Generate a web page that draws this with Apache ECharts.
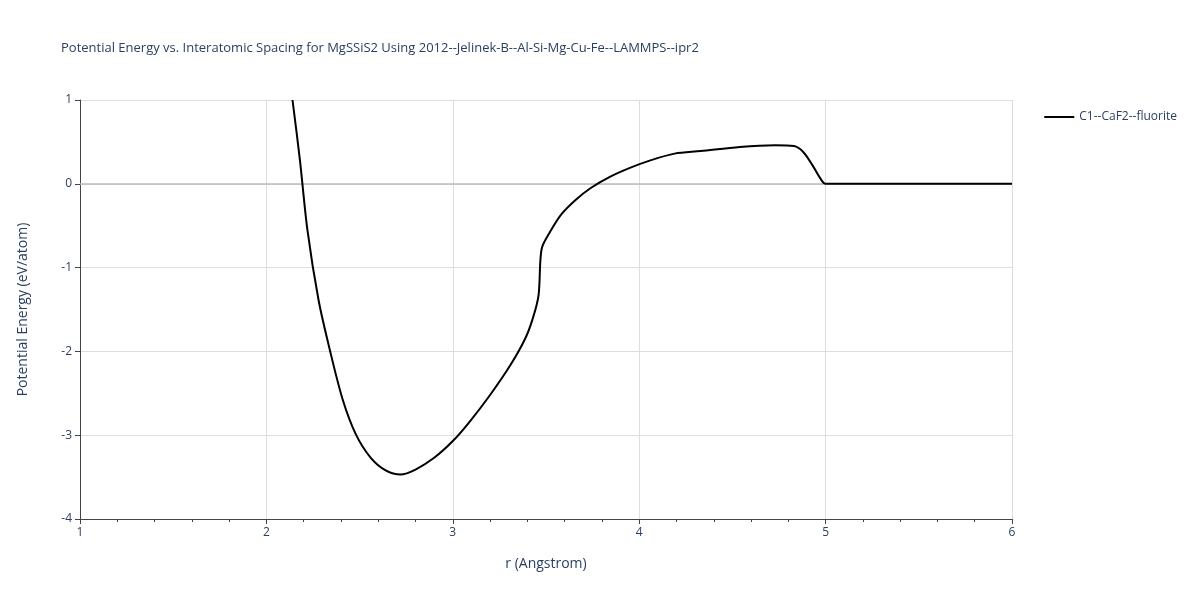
<!DOCTYPE html>
<html><head><meta charset="utf-8">
<script src="https://cdn.jsdelivr.net/npm/echarts@6/dist/echarts.min.js"></script>
<style>html,body{margin:0;padding:0;background:#fff}#c{width:1200px;height:600px}</style>
</head><body><div id="c"></div>
<script>
const rVals = [2.14,2.18,2.22,2.28,2.34,2.41,2.48,2.56,2.64,2.72,2.80,2.90,3.00,3.09,3.20,3.31,3.39,3.43,3.46,3.47,3.48,3.52,3.58,3.66,3.74,3.84,3.95,4.06,4.19,4.33,4.54,4.73,4.83,4.88,4.93,4.97,5.00,5.5,6.0];
const eVals = [1.0,0.28,-0.55,-1.39,-1.98,-2.58,-2.99,-3.27,-3.42,-3.47,-3.41,-3.27,-3.07,-2.84,-2.52,-2.16,-1.84,-1.60,-1.33,-0.91,-0.75,-0.58,-0.37,-0.19,-0.05,0.08,0.19,0.28,0.36,0.39,0.44,0.46,0.45,0.38,0.22,0.07,0,0,0];
const seriesName = 'C1--CaF2--fluorite';
const chart = echarts.init(document.getElementById('c'));
const font = 'Open Sans, Noto Sans, sans-serif';
chart.setOption({
  animation:false,
  title:{text:'Potential Energy vs. Interatomic Spacing for MgSSiS2 Using 2012--Jelinek-B--Al-Si-Mg-Cu-Fe--LAMMPS--ipr2',left:56,top:37,textStyle:{fontSize:13,fontWeight:'normal',color:'#2a3f5f',fontFamily:font}},
  legend:{right:18,top:106,orient:'vertical',itemWidth:30,itemHeight:2,icon:'rect',textStyle:{fontSize:12,color:'#2a3f5f',fontFamily:font},data:[seriesName]},
  grid:{left:80,right:188,top:100,bottom:81},
  xAxis:{type:'value',min:1,max:6,interval:1,name:'r (Angstrom)',nameLocation:'middle',nameGap:38,
    nameTextStyle:{fontSize:14,color:'#2a3f5f',fontFamily:font},
    axisLine:{onZero:false,lineStyle:{color:'#444'}},axisTick:{show:true,length:5,lineStyle:{color:'#444'}},
    minorTick:{show:true,splitNumber:5,length:3,lineStyle:{color:'#444'}},
    axisLabel:{color:'#2a3f5f',fontSize:12,fontFamily:font},splitLine:{lineStyle:{color:'#ddd'}}},
  yAxis:{type:'value',min:-4,max:1,interval:1,name:'Potential Energy (eV/atom)',nameLocation:'middle',nameGap:50,
    nameTextStyle:{fontSize:14,color:'#2a3f5f',fontFamily:font},
    axisLine:{show:true,onZero:false,lineStyle:{color:'#444'}},axisTick:{show:true,length:5,lineStyle:{color:'#444'}},
    axisLabel:{color:'#2a3f5f',fontSize:12,fontFamily:font},
    splitLine:{lineStyle:{color:'#ddd'}}},
  series:[{name:seriesName,type:'line',showSymbol:false,smooth:0.3,z:5,data:rVals.map((r,i)=>[r,eVals[i]]),
    lineStyle:{color:'#000',width:2},itemStyle:{color:'#000'},
    markLine:{silent:true,z:1,symbol:'none',label:{show:false},lineStyle:{color:'#bbb',type:'solid',width:1.5},data:[{yAxis:0}]}}]
});
</script></body></html>
